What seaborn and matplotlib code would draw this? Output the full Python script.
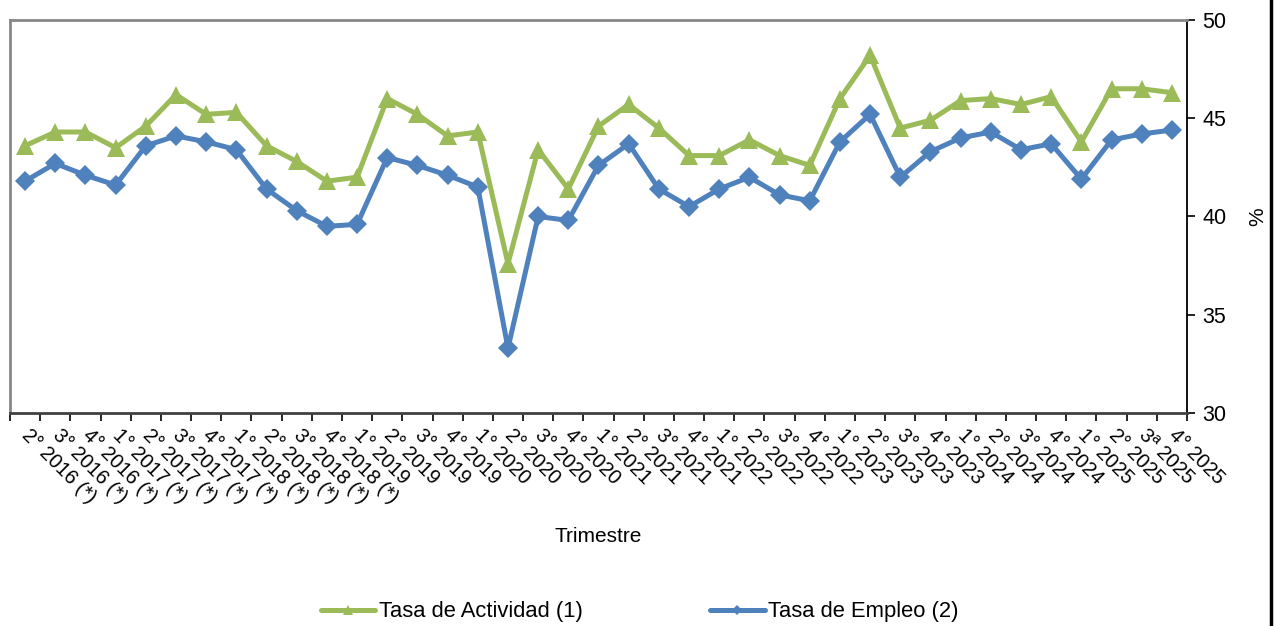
import numpy as np
import pandas as pd
import matplotlib
matplotlib.use("Agg")
import matplotlib.pyplot as plt
from matplotlib.lines import Line2D
import seaborn as sns

# Quarter labels (quarter, year, provisional flag)
quarters = ["2°", "3°", "4°",
            "1°", "2°", "3°", "4°",
            "1°", "2°", "3°", "4°",
            "1°", "2°", "3°", "4°",
            "1°", "2°", "3°", "4°",
            "1°", "2°", "3°", "4°",
            "1°", "2°", "3°", "4°",
            "1°", "2°", "3°", "4°",
            "1°", "2°", "3°", "4°",
            "1°", "2°", "3ª", "4°"]
years = ["2016"] * 3 + ["2017"] * 4 + ["2018"] * 4 + ["2019"] * 4 + ["2020"] * 4 + \
        ["2021"] * 4 + ["2022"] * 4 + ["2023"] * 4 + ["2024"] * 4 + ["2025"] * 4
flagged = [True] * 11 + [False] * 28

tasa_actividad = [43.6, 44.3, 44.3, 43.5, 44.6, 46.2, 45.2, 45.3, 43.6, 42.8,
                  41.8, 42.0, 46.0, 45.2, 44.1, 44.3, 37.6, 43.4, 41.4, 44.6,
                  45.7, 44.5, 43.1, 43.1, 43.9, 43.1, 42.6, 46.0, 48.2, 44.5,
                  44.9, 45.9, 46.0, 45.7, 46.1, 43.8, 46.5, 46.5, 46.3]
tasa_empleo = [41.8, 42.7, 42.1, 41.6, 43.6, 44.1, 43.8, 43.4, 41.4, 40.3,
               39.5, 39.6, 43.0, 42.6, 42.1, 41.5, 33.3, 40.0, 39.8, 42.6,
               43.7, 41.4, 40.5, 41.4, 42.0, 41.1, 40.8, 43.8, 45.2, 42.0,
               43.3, 44.0, 44.3, 43.4, 43.7, 41.9, 43.9, 44.2, 44.4]

labels = [f"{q} {y} (*)" if f else f"{q} {y}" for q, y, f in zip(quarters, years, flagged)]

df = pd.DataFrame({"pos": np.arange(len(labels)),
                   "actividad": tasa_actividad,
                   "empleo": tasa_empleo})

GREEN = "#9BBB59"
BLUE = "#4F81BD"

sns.set_style("white")
plt.rcParams['font.family'] = ['Liberation Sans', 'DejaVu Sans']
plt.rcParams['font.size'] = 15
plt.rcParams['text.color'] = 'black'
plt.rcParams['axes.labelcolor'] = 'black'
plt.rcParams['xtick.color'] = 'black'
plt.rcParams['ytick.color'] = 'black'

fig = plt.figure(figsize=(12.79, 6.26), dpi=100)
ax = fig.add_axes([10 / 1279, 1 - 413 / 626, 1177 / 1279, 393 / 626])

sns.lineplot(data=df, x="pos", y="actividad", ax=ax, color=GREEN, lw=3.6,
             marker="^", markersize=13.5, markeredgewidth=0,
             label="Tasa de Actividad (1)", legend=False)
sns.lineplot(data=df, x="pos", y="empleo", ax=ax, color=BLUE, lw=3.6,
             marker="D", markersize=10, markeredgewidth=0,
             label="Tasa de Empleo (2)", legend=False)

ax.set_xlim(-0.5, len(labels) - 0.5)
ax.set_ylim(30, 50)

# y axis on the right
ax.yaxis.tick_right()
ax.set_yticks([30, 35, 40, 45, 50])
ax.tick_params(axis="y", which="major", direction="out", length=6, width=1.2,
               color="black", pad=5, labelsize=15.5, right=True, left=False)
ax.yaxis.set_label_position("right")
ax.set_ylabel("%", rotation=90, va="center", ha="center", fontsize=15)
ax.yaxis.set_label_coords(1.0603, 0.5)

# x axis: labels at categories, tick marks between them
ax.set_xticks(df["pos"])
ax.set_xticklabels(labels, rotation=-45, ha="left", va="center",
                   rotation_mode="anchor")
ax.set_xticks(np.arange(-0.5, len(labels), 1), minor=True)
ax.tick_params(axis="x", which="major", length=0, pad=14, labelsize=14.5)
ax.tick_params(axis="x", which="minor", direction="out", length=6,
               width=1.2, color="black", bottom=True)
ax.set_xlabel("Trimestre", va="center", fontsize=15)
ax.xaxis.set_label_coords(0.5, -(537 - 413) / 393)

for side in ["left", "top"]:
    ax.spines[side].set_color("#878787")
    ax.spines[side].set_linewidth(2)
ax.spines["right"].set_color("black")
ax.spines["right"].set_linewidth(1.3)
ax.spines["bottom"].set_color("#404040")
ax.spines["bottom"].set_linewidth(2)

handles, labs = ax.get_legend_handles_labels()
fig.legend(handles, labs, loc="center", bbox_to_anchor=(0.5, 1 - 612 / 626),
           ncol=2, frameon=False, handlelength=2.5, columnspacing=5.8,
           handletextpad=0.15, markerscale=0.55, fontsize=15.8)

# right border line of the chart frame
fig.add_artist(Line2D([1271 / 1279, 1271 / 1279], [0, 1],
                      transform=fig.transFigure, color="black", lw=2.5))

fig.savefig("out.png", dpi=100)
